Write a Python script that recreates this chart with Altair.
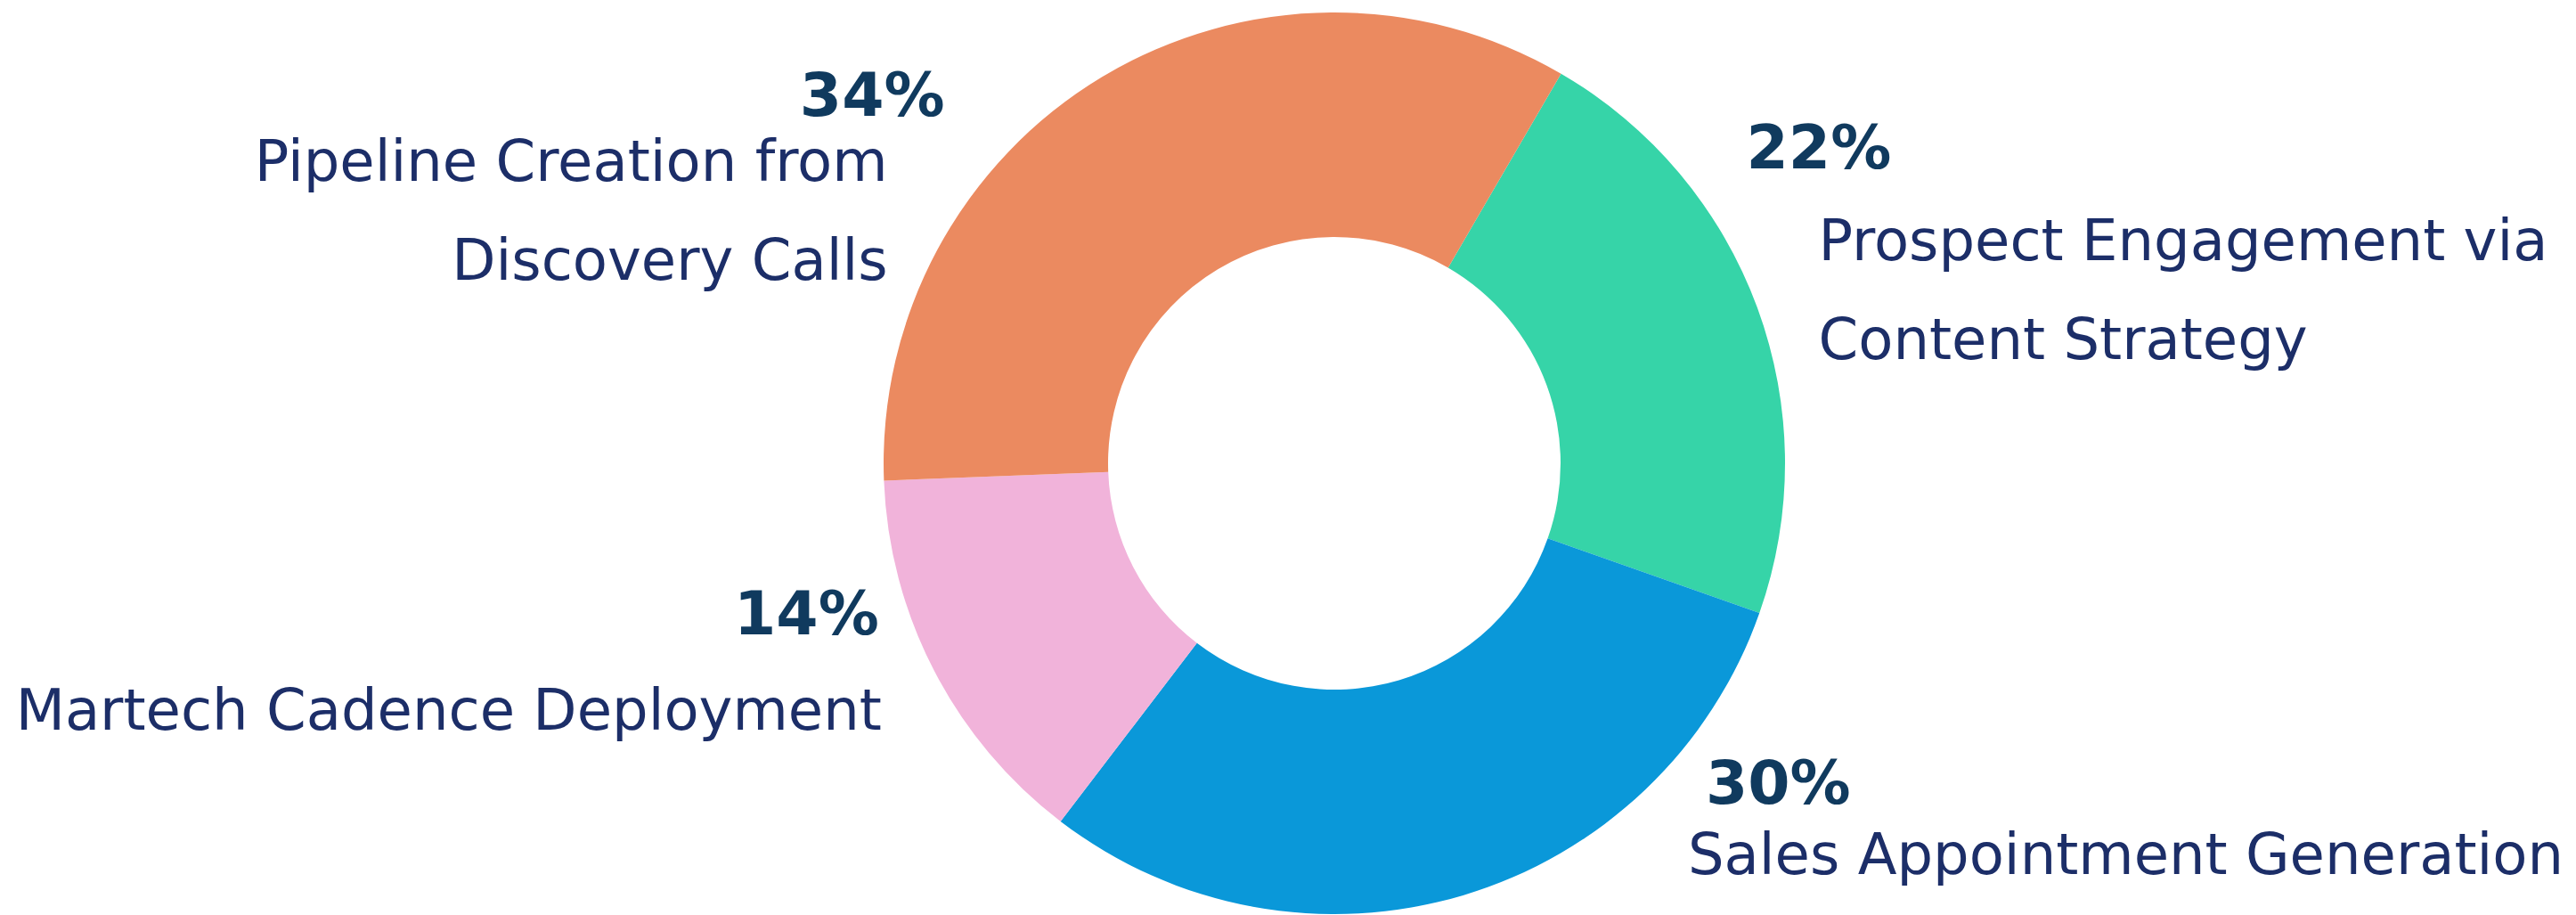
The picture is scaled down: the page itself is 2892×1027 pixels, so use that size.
import altair as alt
import pandas as pd
import math

# data (clockwise order starting at the top-right boundary)
categories = [
    "Prospect Engagement via Content Strategy",
    "Sales Appointment Generation",
    "Martech Cadence Deployment",
    "Pipeline Creation from Discovery Calls",
]
label_lines = [
    "Prospect Engagement via\nContent Strategy",
    "Sales Appointment Generation",
    "Martech Cadence Deployment",
    "Pipeline Creation from\nDiscovery Calls",
]
values = [22, 30, 14, 34]
colors = ["#36D4A8", "#0A98D9", "#F1B3DA", "#EB8A60"]

df = pd.DataFrame({
    "idx": list(range(len(categories))),
    "category": categories,
    "label": label_lines,
    "value": values,
})

START = math.radians(30.2)
total = sum(values)
CX, CY = 1490, 512
FONT = "DejaVu Sans"
PCT_COLOR = "#103A5E"
LBL_COLOR = "#1C2E68"

theta_scale = alt.Scale(domain=[0, total], range=[START, START + 2 * math.pi])

base = alt.Chart(df)

arcs = base.mark_arc(outerRadius=506, innerRadius=254).encode(
    theta=alt.Theta("value:Q", stack=True, scale=theta_scale),
    order=alt.Order("idx:Q"),
    color=alt.Color("category:N", scale=alt.Scale(domain=categories, range=colors), legend=None),
    x=alt.value(CX),
    y=alt.value(CY),
)

text_src = base.transform_window(
    cum="sum(value)", sort=[alt.SortField("idx")]
).transform_calculate(
    mid="datum.cum - datum.value / 2",
    pct="datum.value + '%'",
)

R = 560
# per-slice label styling: (pct align, label align, pct dx, pct dy, label dx, label dy)
placements = [
    ("left", "left", -63, -138, 18, -35),
    ("left", "left", 257, -155, 237, -76),
    ("right", "right", -14, -66, -11, 41),
    ("right", "right", -149, 90, -213, 163),
]

layers = [arcs]
for i, (pa, la, pdx, pdy, ldx, ldy) in enumerate(placements):
    sub = text_src.transform_filter(alt.datum.idx == i)
    layers.append(
        sub.mark_text(
            radius=R, align=pa, baseline="alphabetic", dx=pdx, dy=pdy,
            font=FONT, fontSize=68, fontWeight="bold", color=PCT_COLOR,
        ).encode(
            theta=alt.Theta("mid:Q", stack=False),
            text="pct:N",
            x=alt.value(CX),
            y=alt.value(CY),
        )
    )
    layers.append(
        sub.mark_text(
            radius=R, align=la, baseline="alphabetic", dx=ldx, dy=ldy,
            font=FONT, fontSize=64, color=LBL_COLOR,
            lineBreak="\n", lineHeight=111,
        ).encode(
            theta=alt.Theta("mid:Q", stack=False),
            text="label:N",
            x=alt.value(CX),
            y=alt.value(CY),
        )
    )

chart = alt.layer(*layers).properties(
    width=2876, height=1019,
    autosize=alt.AutoSizeParams(type="none"),
    padding=0,
    background="white",
).configure_view(strokeWidth=0)

chart.save("out.html", embed_options={"renderer": "svg", "actions": False})
